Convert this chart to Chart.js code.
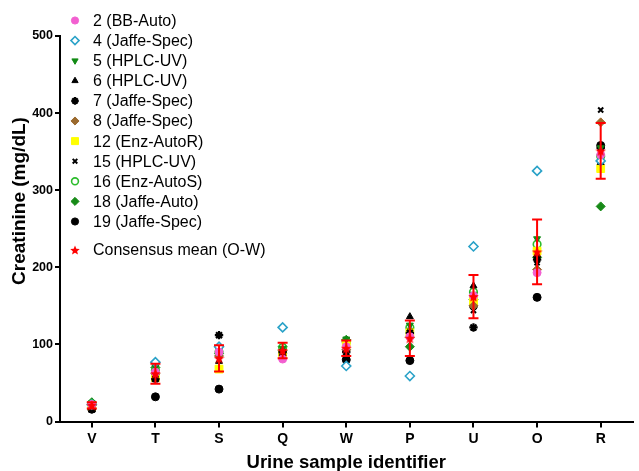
<!DOCTYPE html>
<html>
<head>
<meta charset="utf-8">
<script src="https://cdn.jsdelivr.net/npm/chart.js@4.4.1/dist/chart.umd.min.js"></script>
<style>
  html, body { margin: 0; padding: 0; background: #fff; overflow: hidden; }
  #wrap { width: 639px; height: 471px; overflow: hidden; }
</style>
</head>
<body>
<div id="wrap"><canvas id="myChart" width="639" height="480"></canvas></div>
<script>
// urine samples on the x axis
const samples = ["V", "T", "S", "Q", "W", "P", "U", "O", "R"];

// creatinine (mg/dL) reported by each lab
const lab2 = [22, 64, 90, 81, 97, 110, 163, 193, 346];
const lab4 = [22, 77, 97, 122, 72, 59, 227, 325, 338];
const lab5 = [24, 70, 93, 95, 107, 125, 165, 237, 355];
const lab6 = [15, 55, 78, 88, 84, 136, 176, 216, 336];
const lab7 = [16, 55, 112, 90, 90, 115, 122, 210, 355];
const lab8 = [21, 62, 85, 92, 93, 109, 150, 197, 388];
const lab12 = [20, 57, 68, 88, 100, 115, 156, 221, 328];
const lab15 = [16, 55, 80, 90, 88, 118, 144, 206, 404];
const lab16 = [23, 66, 90, 96, 103, 122, 168, 230, 344];
const lab18 = [25, 70, 88, 97, 106, 97, 158, 213, 279];
const lab19 = [16, 32, 42, 88, 80, 79, 150, 161, 358];

// consensus mean and its spread
const consensusMean = [21, 62, 82, 92, 95, 108, 162, 220, 351];
const consensusSD = [4, 13, 17, 10, 10, 23, 28, 42, 36];

const yTicks = [0, 100, 200, 300, 400, 500];

const FONT = "'Liberation Sans', Arial, Helvetica, sans-serif";

// red five point star for the consensus mean
function makeStar(size, color) {
  const c = document.createElement("canvas");
  c.width = size;
  c.height = size;
  const g = c.getContext("2d");
  const cx = size / 2, cy = size / 2 + 0.5;
  const outer = size / 2, inner = outer * 0.45;
  g.beginPath();
  for (let i = 0; i < 10; i++) {
    const r = i % 2 === 0 ? outer : inner;
    const a = -Math.PI / 2 + i * Math.PI / 5;
    g.lineTo(cx + r * Math.cos(a), cy + r * Math.sin(a));
  }
  g.closePath();
  g.fillStyle = color;
  g.fill();
  return c;
}
const starImg = makeStar(11, "#ff0000");
const starLegend = makeStar(10, "#ff0000");

function series(label, data, style, opts) {
  return Object.assign({
    label: label,
    data: data,
    showLine: false,
    pointStyle: style,
    pointRadius: 4,
    pointHoverRadius: 4,
    pointBorderWidth: 1,
    order: 1,
  }, opts);
}

const datasets = [
  series("Consensus mean (O-W)", consensusMean, starImg, { order: 0, pointBackgroundColor: "#ff0000", pointBorderColor: "#ff0000" }),
  series("2 (BB-Auto)", lab2, "circle", { pointBackgroundColor: "#f25fd0", pointBorderColor: "#f25fd0" }),
  series("4 (Jaffe-Spec)", lab4, "rectRot", { pointRadius: 4.5, pointBorderWidth: 1.6, pointBackgroundColor: "#ffffff", pointBorderColor: "#2aa2c8" }),
  series("5 (HPLC-UV)", lab5, "triangle", { pointRotation: 180, pointBackgroundColor: "#118a14", pointBorderColor: "#118a14" }),
  series("6 (HPLC-UV)", lab6, "triangle", { pointBackgroundColor: "#000000", pointBorderColor: "#000000" }),
  series("7 (Jaffe-Spec)", lab7, "star", { pointRadius: 4.2, pointBorderWidth: 2.2, pointBackgroundColor: "rgba(0,0,0,0)", pointBorderColor: "#000000" }),
  series("8 (Jaffe-Spec)", lab8, "rectRot", { pointRadius: 4.5, pointBackgroundColor: "#9b6a2e", pointBorderColor: "#9b6a2e" }),
  series("12 (Enz-AutoR)", lab12, "rect", { pointRadius: 5.5, pointBackgroundColor: "#ffff00", pointBorderColor: "#ffff00" }),
  series("15 (HPLC-UV)", lab15, "crossRot", { pointRadius: 3.6, pointBorderWidth: 2, pointBackgroundColor: "#000000", pointBorderColor: "#000000" }),
  series("16 (Enz-AutoS)", lab16, "circle", { pointRadius: 3.8, pointBorderWidth: 1.6, pointBackgroundColor: "#ffffff", pointBorderColor: "#2cbc2c" }),
  series("18 (Jaffe-Auto)", lab18, "rectRot", { pointRadius: 4.5, pointBackgroundColor: "#178a17", pointBorderColor: "#178a17" }),
  series("19 (Jaffe-Spec)", lab19, "circle", { pointBackgroundColor: "#000000", pointBorderColor: "#000000" }),
];

// error bars of the consensus mean
const errorBars = {
  id: "errorBars",
  afterDatasetsDraw(chart) {
    const ctx = chart.ctx;
    const xs = chart.scales.x, ys = chart.scales.y;
    ctx.save();
    ctx.strokeStyle = "#ff0000";
    ctx.lineWidth = 2;
    consensusMean.forEach((m, i) => {
      const x = xs.getPixelForValue(i);
      const top = ys.getPixelForValue(m + consensusSD[i]);
      const bot = ys.getPixelForValue(m - consensusSD[i]);
      ctx.beginPath();
      ctx.moveTo(x, top); ctx.lineTo(x, bot);
      ctx.moveTo(x - 5, top); ctx.lineTo(x + 5, top);
      ctx.moveTo(x - 5, bot); ctx.lineTo(x + 5, bot);
      ctx.stroke();
    });
    ctx.restore();
  },
};

// legend inside the plot, top left, and the y axis title
const sideText = {
  id: "sideText",
  afterDraw(chart) {
    const ctx = chart.ctx;
    ctx.save();
    ctx.font = "16px " + FONT;
    ctx.textBaseline = "middle";
    const list = datasets.slice(1).concat([datasets[0]]);
    list.forEach((ds, i) => {
      const y = i < 11 ? 20.5 + i * 20.1 : 250;
      ctx.fillStyle = ds.pointBackgroundColor;
      ctx.strokeStyle = ds.pointBorderColor;
      ctx.lineWidth = ds.pointBorderWidth;
      const style = ds.pointStyle === starImg ? starLegend : ds.pointStyle;
      Chart.helpers.drawPoint(ctx, {
        pointStyle: style,
        rotation: ds.pointRotation || 0,
        radius: ds.pointRadius * 0.9,
        borderWidth: ds.pointBorderWidth,
      }, 75, y);
      ctx.fillStyle = "#000";
      ctx.fillText(ds.label, 93, y + 1);
    });

    ctx.translate(20, 201);
    ctx.rotate(-Math.PI / 2);
    ctx.textAlign = "center";
    ctx.font = "bold 19px " + FONT;
    ctx.fillText("Creatinine (mg/dL)", 0, 0);
    ctx.restore();
  },
};

new Chart(document.getElementById("myChart"), {
  type: "line",
  data: { labels: samples, datasets: datasets },
  options: {
    responsive: false,
    animation: false,
    clip: false,
    layout: { padding: { top: 36, right: 0, left: 0, bottom: 0 } },
    plugins: { legend: { display: false }, tooltip: { enabled: false } },
    scales: {
      x: {
        offset: true,
        afterFit(scale) { scale.height = 58.5; },
        grid: { display: true, drawOnChartArea: false, offset: false, tickLength: 6, color: "#000", lineWidth: 2 },
        border: { color: "#000", width: 2 },
        ticks: { color: "#000", padding: 3, font: { family: FONT, size: 14, weight: "bold" } },
        title: {
          display: true,
          text: "Urine sample identifier",
          color: "#000",
          font: { family: FONT, size: 18.5, weight: "bold" },
          padding: { top: 0, bottom: 6 },
        },
      },
      y: {
        min: 0,
        max: 500,
        afterFit(scale) { scale.width = 60; },
        afterBuildTicks(scale) { scale.ticks = yTicks.map((v) => ({ value: v })); },
        grid: { display: true, drawOnChartArea: false, tickLength: 5, color: "#000", lineWidth: 2 },
        border: { color: "#000", width: 2 },
        ticks: { color: "#000", padding: 2, font: { family: FONT, size: 12.5, weight: "bold" } },
      },
    },
  },
  plugins: [errorBars, sideText],
});
</script>
</body>
</html>
